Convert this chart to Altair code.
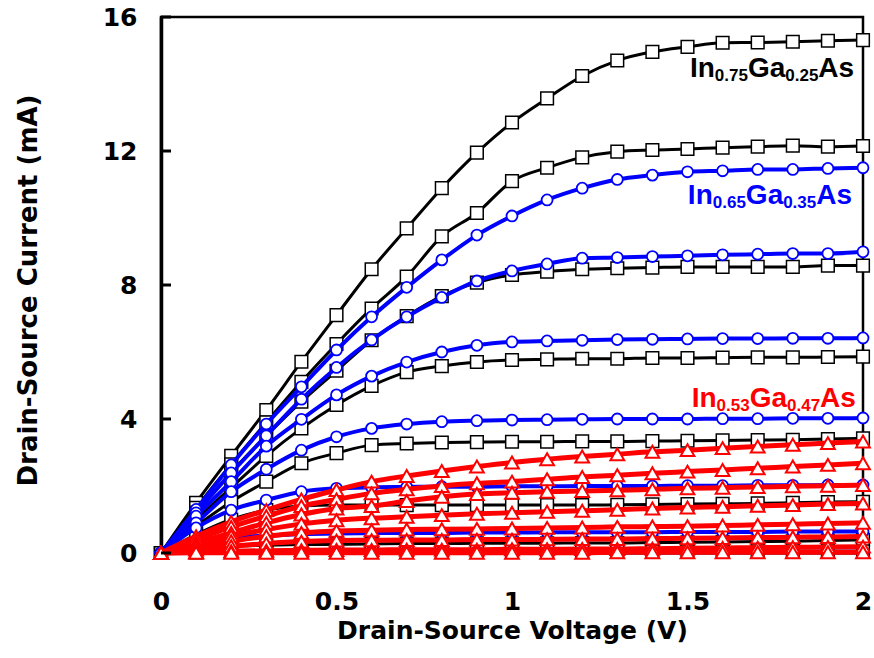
import altair as alt
import pandas as pd

# ---------------- data ----------------
VDS = [0.0, 0.1, 0.2, 0.3, 0.4, 0.5, 0.6, 0.7, 0.8, 0.9, 1.0,
       1.1, 1.2, 1.3, 1.4, 1.5, 1.6, 1.7, 1.8, 1.9, 2.0]

# In0.75Ga0.25As (black squares)
K1 = [0, 1.5, 2.9, 4.27, 5.71, 7.1, 8.47, 9.69, 10.89, 11.95, 12.85, 13.57, 14.24, 14.7, 14.96, 15.11, 15.23, 15.24, 15.26, 15.29, 15.31]
K2 = [0, 1.35, 2.65, 3.9, 5.11, 6.24, 7.3, 8.25, 9.45, 10.15, 11.1, 11.5, 11.81, 11.98, 12.03, 12.06, 12.1, 12.13, 12.16, 12.13, 12.15]
K3 = [0, 1.2, 2.4, 3.5, 4.52, 5.44, 6.35, 7.07, 7.67, 8.07, 8.3, 8.4, 8.47, 8.5, 8.52, 8.54, 8.54, 8.54, 8.54, 8.58, 8.58]
K4 = [0, 1.0, 1.95, 2.9, 3.72, 4.42, 4.99, 5.4, 5.58, 5.7, 5.76, 5.78, 5.8, 5.8, 5.82, 5.82, 5.83, 5.84, 5.84, 5.85, 5.86]
K5 = [0, 0.8, 1.53, 2.13, 2.68, 2.98, 3.22, 3.27, 3.3, 3.31, 3.32, 3.32, 3.33, 3.33, 3.34, 3.35, 3.36, 3.37, 3.38, 3.4, 3.42]
K6 = [0, 0.55, 1.0, 1.28, 1.4, 1.43, 1.43, 1.43, 1.43, 1.43, 1.43, 1.43, 1.43, 1.44, 1.45, 1.46, 1.47, 1.48, 1.5, 1.52, 1.53]
K7 = [0, 0.12, 0.2, 0.23, 0.25, 0.26, 0.27, 0.28, 0.28, 0.29, 0.29, 0.29, 0.3, 0.3, 0.31, 0.32, 0.33, 0.34, 0.35, 0.37, 0.39]
K8 = [0, 0.02, 0.03, 0.04, 0.04, 0.05, 0.05, 0.05, 0.05, 0.05, 0.05, 0.05, 0.05, 0.05, 0.05, 0.05, 0.05, 0.05, 0.05, 0.05, 0.05]

# In0.65Ga0.35As (blue circles)
B1 = [0, 1.3, 2.63, 3.85, 4.96, 6.06, 7.05, 7.93, 8.75, 9.49, 10.06, 10.54, 10.89, 11.15, 11.28, 11.38, 11.41, 11.45, 11.45, 11.48, 11.5]
B2 = [0, 1.2, 2.39, 3.5, 4.59, 5.54, 6.36, 7.05, 7.63, 8.12, 8.42, 8.63, 8.8, 8.82, 8.85, 8.87, 8.9, 8.92, 8.94, 8.94, 8.99]
B3 = [0, 1.1, 2.13, 3.19, 3.99, 4.72, 5.28, 5.7, 6.0, 6.2, 6.3, 6.33, 6.35, 6.37, 6.38, 6.39, 6.4, 6.4, 6.41, 6.41, 6.42]
B4 = [0, 0.9, 1.83, 2.5, 3.07, 3.47, 3.72, 3.85, 3.92, 3.95, 3.97, 3.98, 3.99, 4.0, 4.0, 4.0, 4.01, 4.01, 4.02, 4.02, 4.03]
B5 = [0, 0.75, 1.28, 1.58, 1.83, 1.93, 1.96, 1.97, 1.98, 1.98, 1.99, 1.99, 2.0, 2.0, 2.0, 2.01, 2.01, 2.02, 2.02, 2.03, 2.03]
B6 = [0, 0.3, 0.45, 0.52, 0.56, 0.58, 0.59, 0.6, 0.6, 0.61, 0.61, 0.62, 0.62, 0.62, 0.62, 0.63, 0.63, 0.63, 0.64, 0.64, 0.64]
B7 = [0, 0.02, 0.03, 0.04, 0.04, 0.04, 0.04, 0.04, 0.04, 0.04, 0.04, 0.04, 0.04, 0.04, 0.04, 0.04, 0.04, 0.04, 0.04, 0.04, 0.04]

# In0.53Ga0.47As (red triangles)
R1 = [0, 0.5, 0.93, 1.28, 1.6, 1.88, 2.13, 2.3, 2.45, 2.58, 2.7, 2.8, 2.88, 2.95, 3.02, 3.07, 3.13, 3.18, 3.23, 3.28, 3.33]
R2 = [0, 0.4, 0.78, 1.1, 1.4, 1.6, 1.78, 1.9, 2.0, 2.08, 2.13, 2.2, 2.27, 2.32, 2.38, 2.43, 2.48, 2.53, 2.58, 2.63, 2.68]
R3 = [0, 0.3, 0.6, 0.9, 1.15, 1.33, 1.4, 1.55, 1.68, 1.76, 1.8, 1.83, 1.85, 1.87, 1.9, 1.93, 1.95, 1.97, 1.99, 2.01, 2.03]
R4 = [0, 0.25, 0.5, 0.7, 0.87, 0.98, 1.04, 1.08, 1.13, 1.17, 1.2, 1.23, 1.26, 1.29, 1.33, 1.36, 1.38, 1.41, 1.43, 1.46, 1.48]
R5 = [0, 0.18, 0.35, 0.5, 0.6, 0.66, 0.68, 0.7, 0.71, 0.72, 0.73, 0.75, 0.76, 0.78, 0.79, 0.8, 0.82, 0.84, 0.86, 0.88, 0.9]
R6 = [0, 0.1, 0.2, 0.28, 0.34, 0.37, 0.38, 0.39, 0.39, 0.4, 0.4, 0.41, 0.42, 0.42, 0.43, 0.44, 0.45, 0.46, 0.47, 0.48, 0.49]
R7 = [0, 0.03, 0.05, 0.07, 0.08, 0.09, 0.09, 0.1, 0.1, 0.1, 0.11, 0.11, 0.12, 0.12, 0.13, 0.14, 0.15, 0.16, 0.17, 0.18, 0.19]
R8 = [0, 0.01, 0.01, 0.01, 0.01, 0.01, 0.01, 0.01, 0.01, 0.01, 0.01, 0.01, 0.01, 0.02, 0.02, 0.02, 0.02, 0.02, 0.02, 0.02, 0.02]

BLACK_CURVES = [K1, K2, K3, K4, K5, K6, K7, K8]
BLUE_CURVES = [B1, B2, B3, B4, B5, B6, B7]
RED_CURVES = [R1, R2, R3, R4, R5, R6, R7, R8]

Y_TICKS = [0, 4, 8, 12, 16]
X_TICKS = [0, 0.5, 1, 1.5, 2]

LABEL_SUB1 = ["0.75", "0.65", "0.53"]
LABEL_SUB2 = ["0.25", "0.35", "0.47"]
LABEL_COLOR = ["#000000", "#0000FF", "#FF0000"]
LABEL_V = [1.507, 1.501, 1.512]
LABEL_I = [14.2, 10.42, 4.37]

# ---------------- frames ----------------
def frame(curves, tag):
    rows = []
    for k, c in enumerate(curves):
        for v, i in zip(VDS, c):
            rows.append({"V": v, "I": i, "curve": f"{tag}{k}"})
    return pd.DataFrame(rows)

dk = frame(BLACK_CURVES, "k")
db = frame(BLUE_CURVES, "b")
dr = frame(RED_CURVES, "r")

xs = alt.Scale(domain=[0, 2], nice=False, zero=False)
ys = alt.Scale(domain=[0, 16], nice=False)

x_axis = alt.Axis(values=X_TICKS, format="~g", title="Drain-Source Voltage (V)", ticks=False,
                  tickSize=0, labelPadding=56, labelBaseline="alphabetic",
                  domain=True, domainWidth=2, titleX=351, titleY=85,
                  titleBaseline="alphabetic", labelFlush=False)
y_axis = alt.Axis(values=Y_TICKS, title="Drain-Source Current (mA)", ticks=False,
                  tickSize=0, labelPadding=24, domainWidth=3.5,
                  titleX=-133, titleY=273, titleAngle=-90, titleAlign="center",
                  titleBaseline="middle", titleFontSize=26)

X = alt.X("V:Q", scale=xs, axis=x_axis)
Y = alt.Y("I:Q", scale=ys, axis=y_axis)
Xn = alt.X("V:Q", scale=xs)
Yn = alt.Y("I:Q", scale=ys)

black_line = alt.Chart(dk).mark_line(interpolate="monotone", color="#000000", strokeWidth=3).encode(x=X, y=Y, detail="curve:N")
black_pts = alt.Chart(dk).mark_point(shape="square", filled=True, fill="white", stroke="#000000",
                                     strokeWidth=1.5, size=160, opacity=1).encode(x=Xn, y=Yn, detail="curve:N")
blue_line = alt.Chart(db).mark_line(interpolate="monotone", color="#0000FF", strokeWidth=4).encode(x=Xn, y=Yn, detail="curve:N")
blue_pts = alt.Chart(db).mark_point(shape="circle", filled=True, fill="white", stroke="#0000FF",
                                    strokeWidth=1.8, size=120, opacity=1).encode(x=Xn, y=Yn, detail="curve:N")
red_line = alt.Chart(dr).mark_line(interpolate="monotone", color="#FF0000", strokeWidth=5).encode(x=Xn, y=Yn, detail="curve:N")
red_pts = alt.Chart(dr).mark_point(shape="triangle-up", filled=True, fill="white", stroke="#FF0000",
                                   strokeWidth=2, size=190, opacity=1).encode(x=Xn, y=Yn, detail="curve:N")

# inward y ticks
dt = pd.DataFrame({"I": Y_TICKS})
yticks = alt.Chart(dt).mark_rule(color="#000000", strokeWidth=3).encode(
    y=alt.Y("I:Q", scale=ys), x=alt.value(0), x2=alt.value(10))

# material labels with subscripts
dl = pd.DataFrame({"V": LABEL_V, "I": LABEL_I, "c": LABEL_COLOR,
                   "a": ["In"] * 3, "s1": LABEL_SUB1, "g": ["Ga"] * 3,
                   "s2": LABEL_SUB2, "e": ["As"] * 3})
pieces = [("a", 0, 0, 28), ("s1", 24.9, 4, 17), ("g", 58.0, 0, 28), ("s2", 95.3, 4, 17), ("e", 128.4, 0, 28)]
labels = []
for col, dx, dy, fs in pieces:
    labels.append(alt.Chart(dl).mark_text(align="left", baseline="alphabetic", dx=dx, dy=dy,
                                          fontSize=fs, font="Liberation Sans", fontWeight="bold").encode(
        x=Xn, y=Yn, text=alt.Text(f"{col}:N"), color=alt.Color("c:N", scale=None)))

chart = alt.layer(black_line, black_pts, blue_line, blue_pts, red_line, red_pts, yticks, *labels).properties(
    width=702, height=536,
    autosize=alt.AutoSizeParams(type="none"),
    padding={"left": 161, "top": 17, "right": 11, "bottom": 105},
    background="white",
).configure_view(stroke="#000000", strokeWidth=2.5).configure_axis(
    domainColor="#000000", labelColor="#000000", titleColor="#000000", grid=False,
    labelFont="DejaVu Sans", labelFontWeight="bold", labelFontSize=25,
    titleFont="DejaVu Sans", titleFontWeight="bold", titleFontSize=25,
)

chart.save("out.html", embed_options={"renderer": "svg", "actions": False})
